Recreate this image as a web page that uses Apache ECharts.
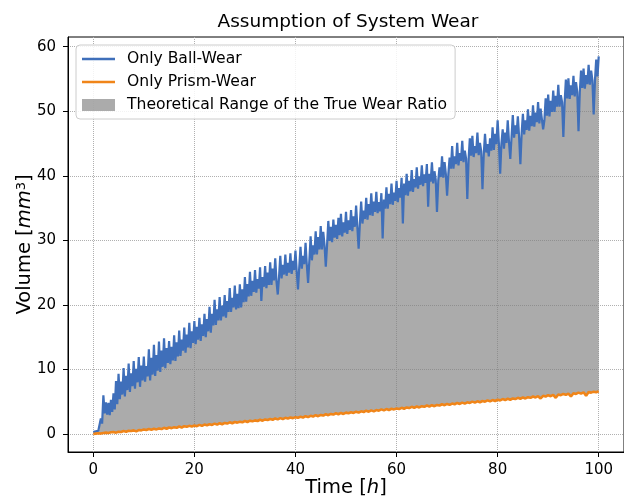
<!DOCTYPE html>
<html>
<head>
<meta charset="utf-8">
<script src="https://cdn.jsdelivr.net/npm/echarts@6/dist/echarts.min.js"></script>
<style>
  html, body { margin: 0; padding: 0; background: #fff; }
  #chart { width: 624px; height: 503px; }
</style>
</head>
<body>
<div id="chart"></div>
<script>
// blue sampled every quarter hour, orange every half hour, 0 .. 100 h
const ballStep = 0.25;
const prismStep = 0.5;

// blue curve (one row = 5 h)
const ballWear = [
  0.3, 0.5, 0.4, 0.6, 0.5, 0.7, 2.4, 1.6, 6.0, 3.2, 4.9, 3.0, 4.8, 2.9, 5.3, 3.4, 6.3, 3.8, 8.2, 4.6,
  9.3, 5.4, 8.1, 6.1, 10.2, 5.8, 9.0, 6.8, 10.9, 6.5, 9.4, 7.4, 11.3, 7.0, 10.1, 8.0, 11.9, 7.3, 10.6, 8.3,
  12.0, 8.1, 10.5, 8.9, 13.1, 8.3, 11.8, 9.2, 13.8, 9.0, 12.2, 9.8, 14.3, 9.6, 12.9, 10.4, 14.8, 10.2, 13.3, 11.0,
  14.4, 10.8, 13.5, 11.4, 15.3, 11.3, 14.2, 12.0, 16.0, 12.1, 14.6, 12.9, 16.5, 12.6, 15.4, 13.4, 17.2, 13.3, 15.9, 14.1,
  17.5, 13.9, 16.6, 14.6, 18.0, 14.4, 17.0, 15.2, 18.6, 15.0, 17.8, 15.9, 19.7, 15.7, 18.6, 16.8, 20.8, 16.9, 19.3, 17.6,
  21.2, 17.6, 19.9, 18.2, 21.5, 18.0, 20.6, 18.9, 22.6, 18.9, 21.1, 19.6, 23.0, 19.3, 21.7, 19.5, 23.2, 19.6, 22.4, 20.4,
  24.3, 20.5, 23.2, 21.3, 25.1, 21.4, 23.7, 22.0, 25.4, 21.9, 24.0, 22.5, 25.8, 20.6, 24.3, 22.8, 26.0, 22.6, 25.0, 23.1,
  26.6, 23.1, 25.6, 23.8, 27.2, 23.6, 21.6, 24.3, 27.6, 24.1, 26.2, 24.7, 27.8, 24.5, 26.5, 25.0, 28.0, 24.8, 26.8, 25.4,
  28.4, 25.2, 22.4, 25.8, 29.0, 25.6, 27.6, 26.3, 29.6, 26.2, 23.4, 26.9, 30.6, 26.9, 29.2, 27.8, 31.4, 27.8, 30.5, 28.6,
  32.2, 28.6, 31.3, 29.3, 25.9, 29.2, 33.0, 29.9, 32.1, 29.7, 33.2, 30.4, 32.4, 30.2, 33.5, 30.8, 34.1, 30.6, 32.8, 31.2,
  34.4, 31.0, 33.1, 31.6, 34.7, 31.4, 33.7, 32.1, 35.4, 32.0, 28.7, 32.7, 36.0, 32.6, 34.6, 33.3, 36.6, 33.2, 35.6, 33.9,
  37.3, 33.8, 36.0, 34.4, 37.5, 34.2, 35.9, 34.5, 37.3, 30.3, 36.3, 34.9, 38.2, 34.9, 37.2, 35.6, 38.8, 35.5, 37.4, 36.1,
  39.2, 35.9, 38.1, 36.6, 39.7, 32.6, 38.8, 37.0, 40.3, 36.9, 39.2, 37.6, 40.9, 37.5, 39.5, 38.2, 41.3, 38.0, 39.9, 38.6,
  41.6, 38.4, 40.2, 38.9, 41.8, 35.2, 40.3, 39.1, 42.1, 38.8, 40.7, 39.4, 34.4, 39.2, 41.3, 39.8, 43.0, 39.7, 42.1, 40.3,
  36.9, 40.3, 42.8, 41.1, 44.6, 41.1, 43.0, 41.8, 45.1, 41.6, 43.5, 42.3, 45.4, 42.1, 43.9, 42.7, 36.4, 42.5, 45.8, 43.1,
  46.2, 42.9, 44.6, 43.5, 46.7, 43.2, 45.1, 43.8, 37.9, 43.3, 46.5, 43.6, 44.9, 43.0, 45.8, 43.9, 47.5, 44.0, 46.5, 44.9,
  48.6, 45.0, 40.3, 45.0, 47.2, 44.2, 46.7, 45.1, 48.6, 45.2, 42.6, 46.0, 49.4, 45.9, 47.8, 46.5, 49.2, 46.0, 41.8, 46.6,
  49.6, 46.4, 48.6, 47.1, 50.3, 47.0, 49.3, 47.7, 50.9, 47.6, 49.8, 48.3, 51.4, 48.1, 50.4, 48.8, 47.2, 48.6, 52.0, 49.3,
  52.6, 49.2, 51.6, 49.9, 53.2, 49.9, 52.4, 50.7, 54.1, 50.7, 52.5, 51.4, 46.0, 51.3, 54.9, 52.0, 55.1, 51.9, 54.0, 52.5,
  55.5, 52.3, 54.5, 53.0, 46.9, 52.9, 56.3, 53.6, 56.6, 53.5, 55.6, 54.2, 57.2, 54.1, 56.3, 54.8, 49.5, 54.7, 58.0, 55.4,
  58.5
];

// orange curve (one row = 5 h)
const prismWear = [
  0.0, 0.05, 0.1, 0.05, 0.15, 0.2, 0.15, 0.25, 0.3, 0.2,
  0.35, 0.3, 0.45, 0.35, 0.5, 0.45, 0.55, 0.4, 0.6, 0.55,
  0.7, 0.6, 0.75, 0.65, 0.8, 0.7, 0.85, 0.75, 0.95, 0.8,
  1.0, 0.9, 1.05, 0.95, 1.15, 1.0, 1.2, 1.1, 1.25, 1.15,
  1.3, 1.2, 1.4, 1.25, 1.45, 1.35, 1.5, 1.4, 1.6, 1.45,
  1.65, 1.5, 1.7, 1.6, 1.8, 1.65, 1.85, 1.75, 1.9, 1.8,
  2.0, 1.85, 2.05, 1.95, 2.1, 2.0, 2.2, 2.05, 2.25, 2.15,
  2.3, 2.2, 2.4, 2.25, 2.45, 2.3, 2.5, 2.4, 2.55, 2.45,
  2.6, 2.5, 2.65, 2.55, 2.75, 2.6, 2.8, 2.7, 2.9, 2.75,
  2.95, 2.85, 3.05, 2.9, 3.1, 3.0, 3.2, 3.05, 3.25, 3.1,
  3.3, 3.2, 3.35, 3.25, 3.45, 3.3, 3.5, 3.4, 3.6, 3.45,
  3.65, 3.5, 3.7, 3.6, 3.8, 3.65, 3.85, 3.7, 3.9, 3.8,
  3.95, 3.85, 4.05, 3.9, 4.1, 4.0, 4.2, 4.05, 4.25, 4.1,
  4.3, 4.2, 4.4, 4.25, 4.45, 4.3, 4.5, 4.4, 4.6, 4.45,
  4.65, 4.5, 4.7, 4.6, 4.8, 4.65, 4.85, 4.7, 4.9, 4.8,
  5.0, 4.85, 5.05, 4.9, 5.1, 5.0, 5.2, 5.05, 5.25, 5.1,
  5.3, 5.2, 5.4, 5.25, 5.45, 5.3, 5.5, 5.4, 5.6, 5.45,
  5.65, 5.5, 5.7, 5.6, 5.8, 5.65, 5.85, 5.5, 5.9, 5.8,
  6.0, 5.85, 6.05, 5.6, 6.1, 6.0, 6.2, 6.05, 6.25, 5.8,
  6.3, 6.2, 6.4, 6.25, 6.45, 5.9, 6.5, 6.4, 6.55, 6.45,
  6.6
];

const xTicks = [0, 20, 40, 60, 80, 100];
const yTicks = [0, 10, 20, 30, 40, 50, 60];
const seriesNames = ['Only Ball-Wear', 'Only Prism-Wear', 'Theoretical Range of the True Wear Ratio'];

const FONT = 'DejaVu Sans';
const BLUE = '#3f6fba';
const ORANGE = '#f08519';
const GRAY = 'rgba(128,128,128,0.66)';

const bluePts = ballWear.map((v, i) => [i * ballStep, v]);
const orangePts = prismWear.map((v, i) => [i * prismStep, v]);

// gray band between the two curves, mapped through the axes
function renderRange(params, api) {
  const pts = [];
  bluePts.forEach(p => pts.push(api.coord(p)));
  for (let i = orangePts.length - 1; i >= 0; i--) pts.push(api.coord(orangePts[i]));
  return { type: 'polygon', shape: { points: pts }, style: { fill: GRAY } };
}

const chart = echarts.init(document.getElementById('chart'));
const optionData = {
  animation: false,
  title: {
    text: 'Assumption of System Wear',
    left: 343,
    top: 8,
    textAlign: 'center',
    textStyle: { fontFamily: FONT, fontSize: 18.5, fontWeight: 'normal', color: '#000' }
  },
  legend: {
    orient: 'vertical',
    left: 76,
    top: 45,
    padding: [6, 8, 6, 6],
    itemGap: 7,
    itemWidth: 33,
    itemHeight: 12,
    backgroundColor: 'rgba(255,255,255,0.85)',
    borderColor: '#cccccc',
    borderWidth: 1,
    borderRadius: 4,
    textStyle: { fontFamily: FONT, fontSize: 15.6, color: '#000', padding: [0, 0, 0, 7] },
    data: [
      { name: seriesNames[0], icon: 'path://M0,0H33V2.5H0Z' },
      { name: seriesNames[1], icon: 'path://M0,0H33V2.5H0Z' },
      { name: seriesNames[2], icon: 'rect' }
    ]
  },
  grid: {
    left: 68, right: -3, top: 37, bottom: 50,
    show: true, borderColor: '#000', borderWidth: 1
  },
  xAxis: {
    type: 'value',
    min: -5,
    max: 105,
    name: '{a|Time [}{b|h}{a|]}',
    nameLocation: 'middle',
    nameGap: 26,
    nameMoveOverlap: false,
    nameTextStyle: {
      rich: {
        a: { fontFamily: FONT, fontSize: 19.5, color: '#000' },
        b: { fontFamily: FONT, fontSize: 19.5, fontStyle: 'italic', color: '#000' }
      }
    },
    axisLine: { show: true, onZero: false, lineStyle: { color: '#000', width: 1 } },
    axisTick: { show: true, length: 5, lineStyle: { color: '#000' }, customValues: xTicks },
    axisLabel: { fontFamily: FONT, fontSize: 15, color: '#000', margin: 11, customValues: xTicks },
    splitLine: { show: true, lineStyle: { type: 'dotted', color: '#b0b0b0', width: 1 } }
  },
  yAxis: {
    type: 'value',
    min: -2.8,
    max: 61.5,
    name: '{a|Volume [}{b|mm}{c|3}{a|]}',
    nameLocation: 'middle',
    nameGap: 33,
    nameMoveOverlap: false,
    nameRotate: 90,
    nameTextStyle: {
      rich: {
        a: { fontFamily: FONT, fontSize: 19.5, color: '#000' },
        b: { fontFamily: FONT, fontSize: 19.5, fontStyle: 'italic', color: '#000' },
        c: { fontFamily: FONT, fontSize: 13, color: '#000', verticalAlign: 'top' }
      }
    },
    axisLine: { show: true, onZero: false, lineStyle: { color: '#000', width: 1 } },
    axisTick: { show: true, length: 5, lineStyle: { color: '#000' }, customValues: yTicks },
    axisLabel: { fontFamily: FONT, fontSize: 15, color: '#000', margin: 12, customValues: yTicks },
    splitLine: { show: true, lineStyle: { type: 'dotted', color: '#b0b0b0', width: 1 } }
  },
  series: [
    {
      name: seriesNames[2],
      type: 'custom',
      data: [[0, 0]],
      silent: true,
      color: GRAY,
      itemStyle: { color: GRAY },
      renderItem: renderRange
    },
    {
      name: seriesNames[0],
      type: 'line',
      data: bluePts,
      showSymbol: false,
      color: BLUE,
      lineStyle: { color: BLUE, width: 2.2 }
    },
    {
      name: seriesNames[1],
      type: 'line',
      data: orangePts,
      showSymbol: false,
      color: ORANGE,
      lineStyle: { color: ORANGE, width: 2.6 }
    }
  ]
};
chart.setOption(optionData);
</script>
</body>
</html>
